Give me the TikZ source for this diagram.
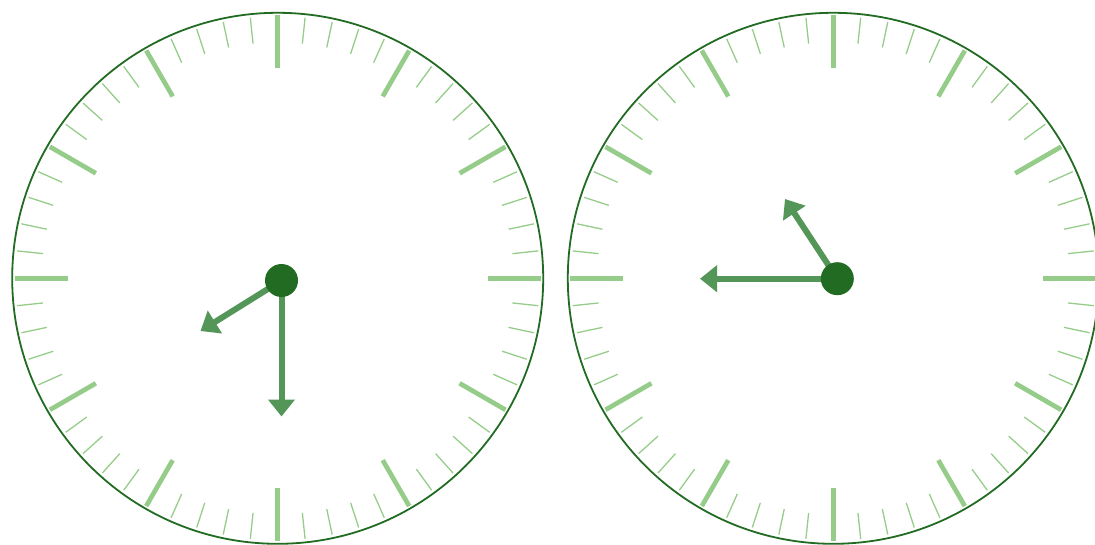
\documentclass[tikz,border=0pt]{standalone}
\usetikzlibrary{arrows.meta,calc}
\definecolor{rim}{RGB}{34,107,34}
\definecolor{hand}{RGB}{83,150,88}
\definecolor{tick}{RGB}{150,204,138}
\tikzset{
  rimline/.style={draw=rim, line width=1.8pt},
  hourtick/.style={draw=tick, line width=4.7pt},
  mintick/.style={draw=tick, line width=1.3pt},
  handline/.style={draw=hand, line width=6pt, -{Triangle[width=26pt,length=17pt]}},
  hub/.style={circle, fill=rim, minimum size=33pt, inner sep=0pt}
}
\begin{document}
\begin{tikzpicture}[x=1pt,y=-1pt]
\useasboundingbox (0,0) rectangle (1095,545);
\clip (0,0) rectangle (1095,545);
\foreach \cx/\cy/\nm in {277.7/278.3/L, 833.3/278.3/R}{
  \coordinate (c\nm) at (\cx,\cy);
  \draw[rimline] (c\nm) circle (265.5);
  \foreach \i in {0,...,59}{
    \pgfmathtruncatemacro{\ishour}{mod(\i,5)==0 ? 1 : 0}
    \ifnum\ishour=1
      \draw[hourtick] ($(c\nm)+(\i*6:210)$) -- ($(c\nm)+(\i*6:263)$);
    \else
      \draw[mintick] ($(c\nm)+(\i*6:236)$) -- ($(c\nm)+(\i*6:262)$);
    \fi
  }
}
% left clock hands
\coordinate (hL) at (281.5,280.5);
\coordinate (mL) at (281.5,416.5);
\coordinate (tL) at (200.5,331);
\draw[handline] (hL) -- (tL);
\draw[handline] (hL) -- (mL);
\node[hub] (dL) at (hL) {};
% right clock hands
\coordinate (hR) at (837.3,278.7);
\coordinate (mR) at (700,278.7);
\coordinate (tR) at (785,199);
\draw[handline] (hR) -- (tR);
\draw[handline] (hR) -- (mR);
\node[hub] (dR) at (hR) {};
\end{tikzpicture}
\end{document}
